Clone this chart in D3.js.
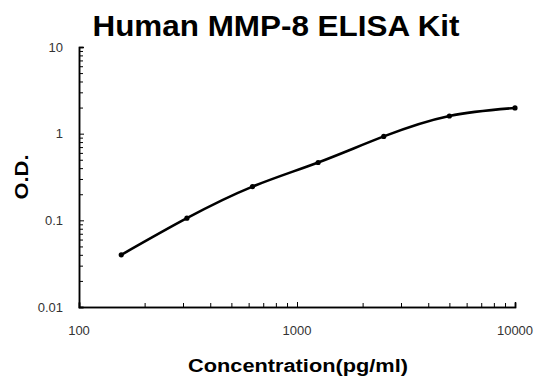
<!DOCTYPE html>
<html>
<head>
<meta charset="utf-8">
<script src="https://d3js.org/d3.v7.min.js"></script>
<style>
  body { margin: 0; background: #fff; }
  svg { display: block; font-family: Arial, "Liberation Sans", sans-serif; }
</style>
</head>
<body>
<div id="chart"></div>
<script>
// Standard curve data
var concentrations = [156.25, 312.5, 625, 1250, 2500, 5000, 10000];
var odValues = [0.040, 0.106, 0.245, 0.465, 0.93, 1.6, 1.98];
var xTickValues = [100, 1000, 10000];
var yTickValues = [0.01, 0.1, 1, 10];

var W = 538, H = 381;
var margin = { top: 47, left: 79, right: 23, bottom: 74 };
var width = W - margin.left - margin.right;
var height = H - margin.top - margin.bottom;

var svg = d3.select("#chart").append("svg")
    .attr("width", W)
    .attr("height", H);

var g = svg.append("g")
    .attr("transform", "translate(" + margin.left + "," + margin.top + ")");

var x = d3.scaleLog().domain([100, 10000]).range([0, width]);
var y = d3.scaleLog().domain([0.01, 10]).range([height, 0]);

// minor ticks 2..9 for each decade
function minorTicks(lo, hi) {
  var t = [];
  for (var e = lo; e < hi; e *= 10) {
    for (var k = 2; k <= 9; k++) t.push(e * k);
  }
  return t;
}

// x axis, ticks pointing inward
var xAxis = g.append("g").attr("transform", "translate(0," + height + ")");
xAxis.call(d3.axisTop(x).tickValues(minorTicks(100, 10000)).tickSize(4).tickFormat(""));
xAxis.append("g").call(d3.axisTop(x).tickValues(xTickValues).tickSize(5).tickFormat(""));
xAxis.selectAll(".domain").attr("stroke", "#000").attr("stroke-width", 1.5);
xAxis.selectAll(".tick line").attr("stroke", "#000");

// y axis, ticks pointing inward
var yAxis = g.append("g");
yAxis.call(d3.axisRight(y).tickValues(minorTicks(0.01, 10)).tickSize(4).tickFormat(""));
yAxis.append("g").call(d3.axisRight(y).tickValues(yTickValues).tickSize(5).tickFormat(""));
yAxis.selectAll(".domain").attr("stroke", "#000").attr("stroke-width", 1.5);
yAxis.selectAll(".tick line").attr("stroke", "#000");

// tick labels
g.selectAll(".xlab")
  .data(xTickValues)
  .enter().append("text")
    .attr("x", function(d) { return x(d); })
    .attr("y", height + 28)
    .attr("text-anchor", "middle")
    .style("font-size", "13px")
    .style("fill", "#333")
    .text(function(d) { return d; });

g.selectAll(".ylab")
  .data(yTickValues)
  .enter().append("text")
    .attr("x", -16)
    .attr("y", function(d) { return y(d); })
    .attr("dy", "0.35em")
    .attr("text-anchor", "end")
    .style("font-size", "13px")
    .style("fill", "#333")
    .text(function(d) { return d; });

// fitted curve
var line = d3.line()
    .x(function(d) { return x(d[0]); })
    .y(function(d) { return y(d[1]); })
    .curve(d3.curveNatural);

var pts = d3.zip(concentrations, odValues);

g.append("path")
    .datum(pts)
    .attr("d", line)
    .attr("fill", "none")
    .attr("stroke", "#000")
    .attr("stroke-width", 2.6)
    .attr("stroke-linecap", "round");

g.selectAll(".dot")
  .data(pts)
  .enter().append("circle")
    .attr("cx", function(d) { return x(d[0]); })
    .attr("cy", function(d) { return y(d[1]); })
    .attr("r", 2.6)
    .attr("fill", "#000");

// titles
svg.append("text")
    .attr("x", 276)
    .attr("y", 36)
    .attr("text-anchor", "middle")
    .attr("textLength", 367)
    .attr("lengthAdjust", "spacingAndGlyphs")
    .style("font-size", "29px")
    .style("font-weight", "bold")
    .text("Human MMP-8 ELISA Kit");

svg.append("text")
    .attr("x", 298)
    .attr("y", 372)
    .attr("text-anchor", "middle")
    .attr("textLength", 220)
    .attr("lengthAdjust", "spacingAndGlyphs")
    .style("font-size", "18px")
    .style("font-weight", "bold")
    .text("Concentration(pg/ml)");

svg.append("text")
    .attr("transform", "translate(28,177) rotate(-90)")
    .attr("text-anchor", "middle")
    .attr("textLength", 45)
    .attr("lengthAdjust", "spacingAndGlyphs")
    .style("font-size", "18px")
    .style("font-weight", "bold")
    .text("O.D.");
</script>
</body>
</html>
